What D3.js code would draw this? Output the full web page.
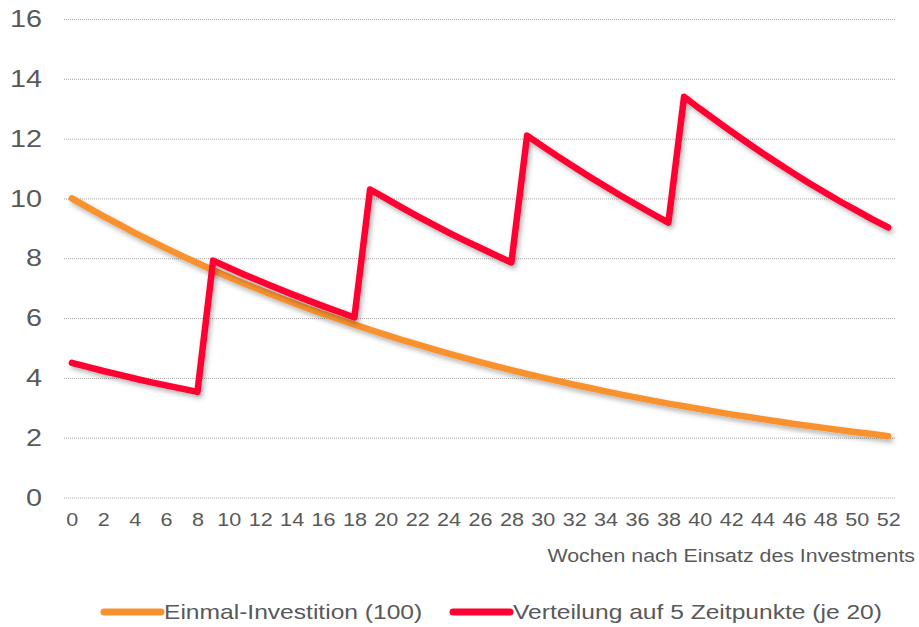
<!DOCTYPE html>
<html>
<head>
<meta charset="utf-8">
<script src="https://cdn.jsdelivr.net/npm/d3@7"></script>
<style>
  body { margin: 0; background: #fff; }
  text { font-family: "Liberation Sans", Arial, sans-serif; fill: #595959; }
</style>
</head>
<body>
<svg></svg>
<script>
const width = 919;
const height = 627;

// weeks 0..52
const weeks = d3.range(0, 53);
const tickWeeks = weeks.filter(w => w % 2 === 0);
const yTicks = [0, 2, 4, 6, 8, 10, 12, 14, 16];

const einmal = [10.00, 9.70, 9.41, 9.13, 8.85, 8.59, 8.33, 8.08, 7.84, 7.60,
  7.37, 7.15, 6.94, 6.73, 6.53, 6.33, 6.14, 5.96, 5.78, 5.61,
  5.44, 5.27, 5.12, 4.96, 4.81, 4.67, 4.53, 4.39, 4.26, 4.13,
  4.01, 3.89, 3.77, 3.66, 3.55, 3.44, 3.34, 3.24, 3.14, 3.05,
  2.96, 2.87, 2.78, 2.70, 2.62, 2.54, 2.46, 2.39, 2.32, 2.25,
  2.18, 2.12, 2.05];

const verteilung = [4.50, 4.37, 4.23, 4.11, 3.98, 3.86, 3.75, 3.64, 3.53, 7.92,
  7.68, 7.45, 7.23, 7.01, 6.80, 6.60, 6.40, 6.21, 6.02, 10.30,
  10.00, 9.70, 9.41, 9.13, 8.86, 8.60, 8.35, 8.10, 7.86, 12.10,
  11.74, 11.39, 11.05, 10.72, 10.40, 10.08, 9.78, 9.48, 9.19, 13.40,
  13.00, 12.62, 12.24, 11.87, 11.51, 11.17, 10.83, 10.50, 10.19, 9.88,
  9.59, 9.30, 9.03];

const seriesNames = ["Einmal-Investition (100)", "Verteilung auf 5 Zeitpunkte (je 20)"];
const colors = ["#F7922F", "#FF0033"];
const xTitle = "Wochen nach Einsatz des Investments";

const stretch = 1.2;
const plotLeft = 64, plotRight = 896, plotTop = 19, plotBottom = 497.5;

const svg = d3.select("svg").attr("width", width).attr("height", height);

const defs = svg.append("defs");
const f = defs.append("filter").attr("id", "shadow")
  .attr("x", "-10%").attr("y", "-10%").attr("width", "120%").attr("height", "130%");
f.append("feDropShadow").attr("dx", 2).attr("dy", 3).attr("stdDeviation", 2.5)
  .attr("flood-color", "#000").attr("flood-opacity", 0.3);

const x = d3.scalePoint().domain(weeks).range([plotLeft, plotRight]).padding(0.5);
const y = d3.scaleLinear().domain([0, 16]).range([plotBottom, plotTop]);

// y gridlines + labels
const yAxis = d3.axisLeft(y).tickValues(yTicks).tickSize(-(plotRight - plotLeft)).tickPadding(22);
const gy = svg.append("g").attr("transform", "translate(" + plotLeft + ",0)").call(yAxis);
gy.select(".domain").remove();
gy.selectAll(".tick line").attr("stroke", "#a6a6a6").attr("stroke-dasharray", "1,1");
gy.selectAll(".tick text")
  .style("font-size", "24px")
  .attr("transform", function() {
    const x0 = +d3.select(this).attr("x");
    return "translate(" + x0 + ",0) scale(" + stretch + ",1) translate(" + (-x0) + ",0)";
  });

// x labels
const xAxis = d3.axisBottom(x).tickValues(tickWeeks).tickSize(0).tickPadding(16);
const gx = svg.append("g").attr("transform", "translate(0," + plotBottom + ")").call(xAxis);
gx.select(".domain").remove();
gx.selectAll(".tick text").style("font-size", "18px")
  .attr("transform", "scale(" + stretch + ",1)");

svg.append("text")
  .attr("transform", "translate(915,562) scale(" + stretch + ",1)")
  .attr("text-anchor", "end")
  .style("font-size", "17.8px")
  .text(xTitle);

// lines
const line = d3.line().x((d, i) => x(weeks[i])).y(d => y(d));
[einmal, verteilung].forEach((vals, k) => {
  svg.append("path")
    .datum(vals)
    .attr("d", line)
    .attr("fill", "none")
    .attr("stroke", colors[k])
    .attr("stroke-width", 6.5)
    .attr("stroke-linejoin", "round")
    .attr("stroke-linecap", "round")
    .attr("filter", "url(#shadow)");
});

// legend
const legendX = [104, 453];
seriesNames.forEach((name, k) => {
  const g = svg.append("g").attr("transform", "translate(" + legendX[k] + ",612)");
  g.append("line").attr("x1", 0).attr("x2", 57).attr("y1", 0).attr("y2", 0)
    .attr("stroke", colors[k]).attr("stroke-width", 7).attr("stroke-linecap", "round");
  g.append("text")
    .attr("transform", "translate(60,0) scale(" + stretch + ",1)")
    .attr("dy", "0.35em")
    .style("font-size", "20.5px")
    .text(name);
});
</script>
</body>
</html>
